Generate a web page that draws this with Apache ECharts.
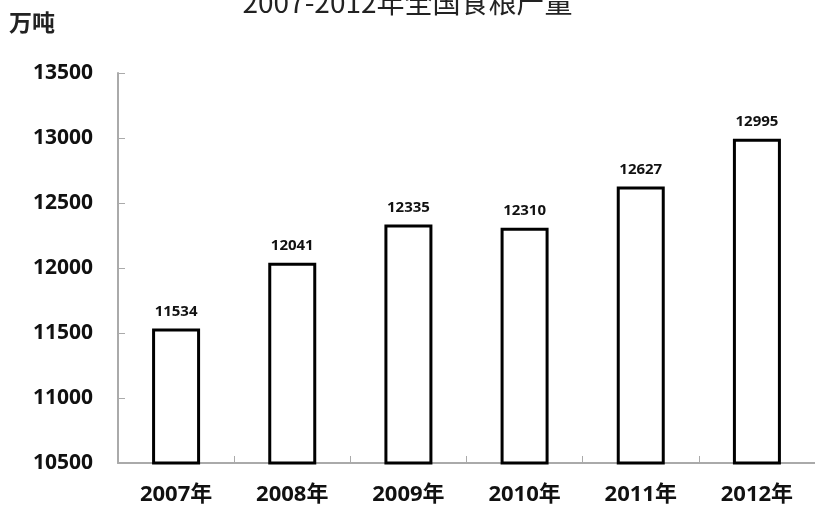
<!DOCTYPE html>
<html>
<head>
<meta charset="utf-8">
<script src="https://cdn.jsdelivr.net/npm/echarts@6/dist/echarts.min.js"></script>
<style>
html,body{margin:0;padding:0;background:#fff;}
#chart{width:815px;height:506px;}
</style>
</head>
<body>
<div id="chart"></div>
<script>
const categories = ['2007年','2008年','2009年','2010年','2011年','2012年'];
const production = [11534, 12041, 12335, 12310, 12627, 12995];
const titleText = '2007-2012年全国食粮产量';
const unitText = '万吨';

const chart = echarts.init(document.getElementById('chart'));
chart.setOption({
  animation: false,
  backgroundColor: '#ffffff',
  title: {
    text: titleText,
    left: 'center',
    top: -17,
    textStyle: { fontFamily: 'Noto Sans CJK SC', fontWeight: 'normal', fontSize: 28, color: '#222' }
  },
  graphic: [{
    type: 'text', left: 9, top: 11,
    style: { text: unitText, font: 'bold 23px "Noto Sans CJK SC"', fill: '#222' }
  }],
  grid: { left: 118, top: 73, width: 707, bottom: 43, containLabel: false },
  xAxis: {
    type: 'category',
    data: categories,
    axisLine: { lineStyle: { color: '#aaaaaa', width: 2 } },
    axisTick: { show: true, inside: true, length: 7, lineStyle: { color: '#aaaaaa' } },
    axisLabel: { color: '#111', fontSize: 22, fontWeight: 'bold', fontFamily: 'Open Sans, Noto Sans CJK SC', margin: 21 }
  },
  yAxis: {
    type: 'value',
    min: 10500, max: 13500, interval: 500,
    axisLine: { show: true, lineStyle: { color: '#aaaaaa', width: 2 } },
    axisTick: { show: true, inside: true, length: 7, lineStyle: { color: '#aaaaaa' } },
    splitLine: { show: false },
    axisLabel: { color: '#111', fontSize: 21, fontWeight: 'bold', fontFamily: 'Open Sans', margin: 25, formatter: v => String(v) }
  },
  series: [{
    type: 'bar',
    data: production,
    barWidth: 48,
    itemStyle: { color: '#ffffff', borderColor: '#000', borderWidth: 3 },
    label: { show: true, position: 'top', distance: 9, color: '#111', fontSize: 15, fontWeight: 'bold', fontFamily: 'Open Sans' }
  }]
});
</script>
</body>
</html>
